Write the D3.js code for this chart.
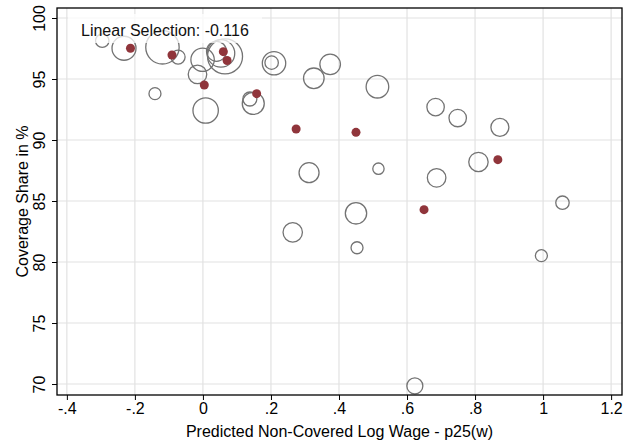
<!DOCTYPE html>
<html>
<head>
<meta charset="utf-8">
<script src="https://cdn.jsdelivr.net/npm/d3@7"></script>
<style>
  html, body { margin: 0; padding: 0; background: #fff; }
  svg { display: block; font-family: "Liberation Sans", Arial, sans-serif; }
</style>
</head>
<body>
<svg id="chart" width="631" height="443"></svg>
<script>
// Hollow circles: binned observations (x = predicted non-covered log wage - p25, y = coverage share, w = weight)
const circleX = [-0.296, -0.232, -0.119, -0.073, -0.001, -0.016, 0.040, 0.053, 0.065, 0.008, -0.141, 0.138, 0.148, 0.202, 0.209, 0.374, 0.326, 0.513, 0.684, 0.749, 0.873, 0.810, 0.312, 0.516, 0.687, 1.057, 0.450, 0.264, 0.453, 0.995, 0.623];
const circleY = [98.14, 97.52, 97.60, 96.80, 96.58, 95.38, 97.27, 97.10, 96.85, 92.42, 93.80, 93.36, 93.00, 96.34, 96.29, 96.20, 95.06, 94.37, 92.70, 91.80, 91.04, 88.20, 87.32, 87.65, 86.90, 84.86, 83.99, 82.43, 81.17, 80.52, 69.84];
const circleW = [45, 144, 279, 49, 137, 86, 100, 190, 306, 161, 36, 49, 121, 45, 137, 106, 106, 128, 76, 76, 81, 94, 100, 32, 86, 45, 114, 94, 36, 36, 64];

// Filled red dots: binned means
const meanX = [-0.213, -0.091, 0.060, 0.071, 0.004, 0.158, 0.274, 0.450, 0.867, 0.650];
const meanY = [97.52, 96.97, 97.24, 96.52, 94.51, 93.80, 90.90, 90.63, 88.39, 84.29];

const xTicks = [-0.4, -0.2, 0, 0.2, 0.4, 0.6, 0.8, 1, 1.2];
const xTickLabels = ["-.4", "-.2", "0", ".2", ".4", ".6", ".8", "1", "1.2"];
const yTicks = [70, 75, 80, 85, 90, 95, 100];
const legendText = "Linear Selection: -0.116";
const xTitle = "Predicted Non-Covered Log Wage - p25(w)";
const yTitle = "Coverage Share in %";

const svg = d3.select("#chart");
const mLeft = 57, mRight = 622, mTop = 8, mBottom = 395;

const x = d3.scaleLinear().domain([-0.429, 1.232]).range([mLeft, mRight]);
const y = d3.scaleLinear().domain([69.1, 100.82]).range([mBottom, mTop]);
const r = d3.scaleSqrt().domain([0, 100]).range([0, 10]);

// grid
svg.append("g").selectAll("line").data(xTicks).join("line")
  .attr("x1", d => x(d)).attr("x2", d => x(d)).attr("y1", mTop).attr("y2", mBottom)
  .attr("stroke", "#e2e2e2").attr("stroke-width", 1.2);
svg.append("g").selectAll("line").data(yTicks).join("line")
  .attr("x1", mLeft).attr("x2", mRight).attr("y1", d => y(d)).attr("y2", d => y(d))
  .attr("stroke", "#e2e2e2").attr("stroke-width", 1.2);

// hollow circles
const circles = circleX.map((v, i) => ({ x: v, y: circleY[i], w: circleW[i] }));
svg.append("g").selectAll("circle").data(circles).join("circle")
  .attr("cx", d => x(d.x)).attr("cy", d => y(d.y)).attr("r", d => r(d.w))
  .attr("fill", "none").attr("stroke", "#737373").attr("stroke-width", 1.3);

// legend box (semi-transparent, sits under the mean markers)
svg.append("rect").attr("x", 68).attr("y", 14).attr("width", 194).attr("height", 29)
  .attr("fill", "#fff").attr("fill-opacity", 0.75);

// red means
const means = meanX.map((v, i) => ({ x: v, y: meanY[i] }));
svg.append("g").selectAll("circle").data(means).join("circle")
  .attr("cx", d => x(d.x)).attr("cy", d => y(d.y)).attr("r", 4.5)
  .attr("fill", "#90353b");

svg.append("text").attr("x", 81).attr("y", 36).attr("font-size", 16).attr("fill", "#111").text(legendText);

// axes
const xAxis = d3.axisBottom(x).tickValues(xTicks).tickFormat((d, i) => xTickLabels[i]).tickSize(5).tickPadding(3);
const gx = svg.append("g").attr("transform", `translate(0,${mBottom})`).call(xAxis);
gx.select(".domain").remove();
gx.selectAll(".tick line").attr("stroke", "#000");
gx.selectAll(".tick text").attr("font-size", 16).attr("font-family", "Liberation Sans, Arial, sans-serif").attr("fill", "#000");

const yAxis = d3.axisLeft(y).tickValues(yTicks).tickSize(5).tickPadding(0);
const gy = svg.append("g").attr("transform", `translate(${mLeft},0)`).call(yAxis);
gy.select(".domain").remove();
gy.selectAll(".tick line").attr("stroke", "#000");
gy.selectAll(".tick text")
  .attr("font-size", 16).attr("font-family", "Liberation Sans, Arial, sans-serif").attr("fill", "#000")
  .attr("x", null).attr("dy", null)
  .attr("text-anchor", "middle")
  .attr("transform", "translate(-12,0) rotate(-90)");

// frame
svg.append("rect").attr("x", mLeft).attr("y", mTop).attr("width", mRight - mLeft).attr("height", mBottom - mTop)
  .attr("fill", "none").attr("stroke", "#000").attr("stroke-width", 1.3);

// titles
svg.append("text").attr("x", (mLeft + mRight) / 2).attr("y", 437).attr("text-anchor", "middle")
  .attr("font-size", 16).attr("fill", "#000").text(xTitle);
svg.append("text").attr("transform", `translate(28,${(mTop + mBottom) / 2}) rotate(-90)`).attr("text-anchor", "middle")
  .attr("font-size", 16).attr("fill", "#000").text(yTitle);
</script>
</body>
</html>
